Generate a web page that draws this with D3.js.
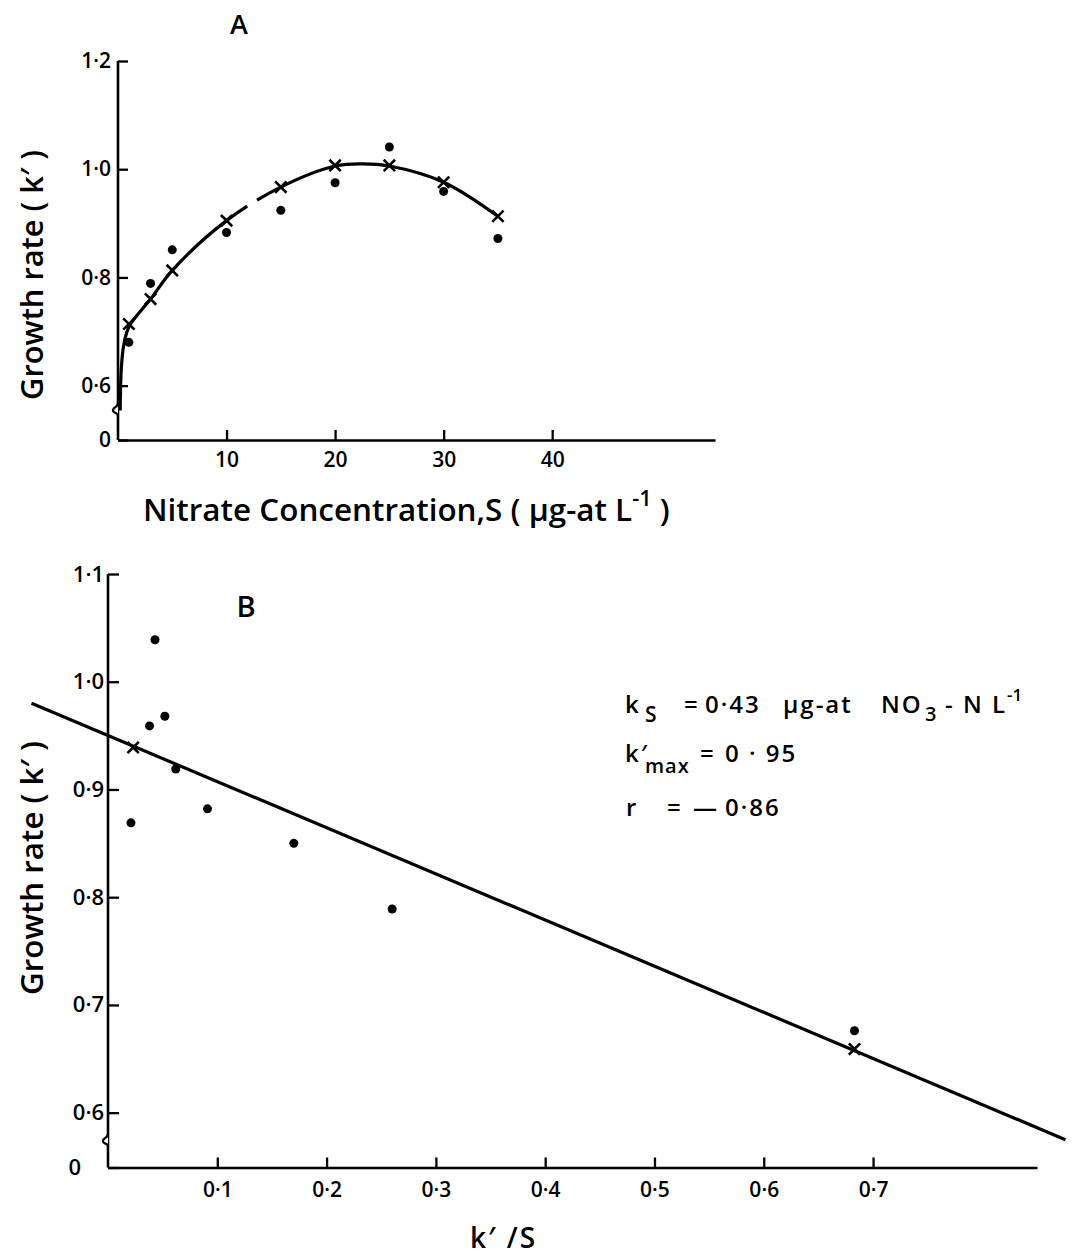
<!DOCTYPE html>
<html>
<head>
<meta charset="utf-8">
<script src="https://cdn.jsdelivr.net/npm/d3@7"></script>
<style>
  html, body { margin: 0; padding: 0; background: #fff; }
  svg { display: block; }
  text { font-family: "Open Sans", "DejaVu Sans", sans-serif; font-weight: 600; fill: #000; }
</style>
</head>
<body>
<svg id="chart" width="1075" height="1258"></svg>
<script>
// ---- Panel A: growth rate k' against nitrate concentration S ----
const concS      = [1, 3, 5, 10, 15, 20, 25, 30, 35];
const observedK  = [0.680, 0.789, 0.851, 0.883, 0.924, 0.975, 1.041, 0.959, 0.872];
const fittedK    = [0.714, 0.760, 0.813, 0.905, 0.967, 1.007, 1.007, 0.976, 0.913];
// smooth trend drawn through the fitted values
const curveS     = [0.2, 0.3, 0.5, 0.8, 1.15, 3, 5, 10, 15, 20, 22.5, 25, 30, 35];
const curveK     = [0.554, 0.630, 0.672, 0.698, 0.714, 0.760, 0.813, 0.905, 0.967, 1.006, 1.010, 1.006, 0.976, 0.913];
const curveGap   = [11.9, 12.8];
const xTicksA      = [10, 20, 30, 40];
const xTickLabelsA = ["10", "20", "30", "40"];
const yTicksA      = [0, 0.6, 0.8, 1.0, 1.2];
const yTickLabelsA = ["0", "0·6", "0·8", "1·0", "1·2"];

// ---- Panel B: k' against k'/S ----
const ratioObs = [0.043, 0.038, 0.052, 0.062, 0.091, 0.021, 0.170, 0.260, 0.683];
const kObs     = [1.039, 0.959, 0.968, 0.919, 0.882, 0.869, 0.850, 0.789, 0.676];
const ratioFit = [0.023, 0.683];
const kFit     = [0.939, 0.659];
const kMaxFit  = 0.95;   // intercept
const ksFit    = 0.43;   // slope magnitude
const rFit     = -0.86;  // correlation
const lineSpan = [-0.07, 0.876];
const xTicksB      = [0.1, 0.2, 0.3, 0.4, 0.5, 0.6, 0.7];
const xTickLabelsB = ["0·1", "0·2", "0·3", "0·4", "0·5", "0·6", "0·7"];
const yTicksB      = [0, 0.6, 0.7, 0.8, 0.9, 1.0, 1.1];
const yTickLabelsB = ["0", "0·6", "0·7", "0·8", "0·9", "1·0", "1·1"];

const svg = d3.select("#chart");
const INK = "#000";
const FONT = "Open Sans, DejaVu Sans, sans-serif";
const fmt2 = v => d3.format(".2f")(v).replace(".", "·");

function styleAxis(g, fontSize) {
  g.attr("font-family", FONT).attr("font-size", fontSize);
  g.selectAll("line").attr("stroke", INK).attr("stroke-width", 2.3);
  g.selectAll("path.domain").attr("stroke", INK).attr("stroke-width", 2.6);
  g.selectAll("text").attr("fill", INK).attr("font-weight", 600);
}

function fitWidth(sel, width) {
  const w = sel.node().getComputedTextLength();
  const fs = parseFloat(sel.attr("font-size"));
  sel.attr("font-size", fs * width / w);
}

function breakMark(x, y) {
  return `M${x},${y - 6} C${x},${y - 1} ${x - 6},${y - 2} ${x - 5},${y + 2} C${x - 4},${y + 5} ${x},${y + 3} ${x},${y + 7}`;
}

// ================= Panel A =================
const xA = d3.scaleLinear().domain([0, 55]).range([118, 715]);
const yA = d3.scaleLinear().domain([0, 0.55, 1.2]).range([440, 412.7, 61]);

const gxA = svg.append("g").attr("transform", `translate(0,${yA(0)})`)
  .call(d3.axisBottom(xA).tickValues(xTicksA)
    .tickFormat((d, i) => xTickLabelsA[i])
    .tickSizeInner(-10).tickSizeOuter(0).tickPadding(12));
styleAxis(gxA, 21);

const gyA = svg.append("g").attr("transform", `translate(${xA(0)},0)`)
  .call(d3.axisLeft(yA).tickValues(yTicksA)
    .tickFormat((d, i) => yTickLabelsA[i])
    .tickSizeInner(-10).tickSizeOuter(0).tickPadding(7));
styleAxis(gyA, 21);
gyA.select("path.domain").remove();
svg.append("path")
  .attr("d", `M${xA(0)},${yA(1.2)} V${yA(0)}`)
  .attr("stroke", INK).attr("stroke-width", 2.6).attr("fill", "none");
svg.append("path").attr("d", breakMark(xA(0), yA(0.557)))
  .attr("stroke", INK).attr("stroke-width", 2.2).attr("fill", "#fff");

// trend curve with a small break in the stroke
const curvePts = curveS.map((s, i) => [s, curveK[i]]);
const curvePath = svg.append("path")
  .attr("d", d3.line().x(d => xA(d[0])).y(d => yA(d[1])).curve(d3.curveCatmullRom.alpha(0.5))(curvePts))
  .attr("fill", "none").attr("stroke", INK).attr("stroke-width", 3.2);
(function () {
  const node = curvePath.node();
  const total = node.getTotalLength();
  const lenAtX = px => {
    let lo = 0, hi = total;
    for (let k = 0; k < 40; k++) {
      const mid = (lo + hi) / 2;
      if (node.getPointAtLength(mid).x < px) lo = mid; else hi = mid;
    }
    return lo;
  };
  const l1 = lenAtX(xA(curveGap[0])), l2 = lenAtX(xA(curveGap[1]));
  curvePath.attr("stroke-dasharray", `${l1} ${l2 - l1} ${total}`);
})();

// observed points
svg.append("g").selectAll("circle").data(concS).join("circle")
  .attr("cx", d => xA(d)).attr("cy", (d, i) => yA(observedK[i]))
  .attr("r", 4.5).attr("fill", INK);
// fitted points
const crossSym = d3.symbol(d3.symbolTimes, 85);
svg.append("g").selectAll("path").data(concS).join("path")
  .attr("d", crossSym)
  .attr("transform", (d, i) => `translate(${xA(d)},${yA(fittedK[i])})`)
  .attr("stroke", INK).attr("stroke-width", 2.6).attr("fill", "none");

// panel A titles
svg.append("text").attr("x", 239).attr("y", 34).attr("text-anchor", "middle")
  .attr("font-size", 27).attr("font-weight", 700).text("A");
const ylabA = svg.append("text")
  .attr("transform", "translate(43,275) rotate(-90)")
  .attr("text-anchor", "middle").attr("font-size", 30).attr("font-weight", 700)
  .text("Growth rate ( k′ )");
fitWidth(ylabA, 250);
const xlabA = svg.append("text").attr("x", 143).attr("y", 521).attr("font-size", 26);
xlabA.append("tspan").text("Nitrate Concentration,S ( μg-at L");
xlabA.append("tspan").attr("dy", -12).attr("font-size", 18).text("-1");
xlabA.append("tspan").attr("dy", 12).text(" )");
(function () {
  const w = xlabA.node().getBBox().width;
  const s = 527 / w;
  xlabA.attr("font-size", 26 * s);
  xlabA.selectAll("tspan").filter((d, i) => i === 1).attr("font-size", 18 * s).attr("dy", -12 * s);
  xlabA.selectAll("tspan").filter((d, i) => i === 2).attr("dy", 12 * s);
})();

// ================= Panel B =================
const xB = d3.scaleLinear().domain([0, 0.85]).range([108, 1037]);
const yB = d3.scaleLinear().domain([0, 0.575, 1.1]).range([1167.5, 1139.6, 574]);

const gxB = svg.append("g").attr("transform", `translate(0,${yB(0)})`)
  .call(d3.axisBottom(xB).tickValues(xTicksB)
    .tickFormat((d, i) => xTickLabelsB[i])
    .tickSizeInner(-10).tickSizeOuter(0).tickPadding(15));
styleAxis(gxB, 21);

const gyB = svg.append("g").attr("transform", `translate(${xB(0)},0)`)
  .call(d3.axisLeft(yB).tickValues(yTicksB)
    .tickFormat((d, i) => yTickLabelsB[i])
    .tickSizeInner(-11).tickSizeOuter(0).tickPadding(4));
styleAxis(gyB, 22);
gyB.select("path.domain").remove();
gyB.selectAll(".tick").filter(d => d === 0).select("text").attr("x", -27);
svg.append("path")
  .attr("d", `M${xB(0)},${yB(1.1)} V${yB(0)}`)
  .attr("stroke", INK).attr("stroke-width", 2.6).attr("fill", "none");
svg.append("path").attr("d", breakMark(xB(0), yB(0.574)))
  .attr("stroke", INK).attr("stroke-width", 2.2).attr("fill", "#fff");

// fitted straight line k' = k'max - ks * (k'/S)
const linePts = lineSpan.map(r => [r, kMaxFit - ksFit * r]);
svg.append("path")
  .attr("d", d3.line().x(d => xB(d[0])).y(d => yB(d[1]))(linePts))
  .attr("fill", "none").attr("stroke", INK).attr("stroke-width", 3.2);

svg.append("g").selectAll("circle").data(ratioObs).join("circle")
  .attr("cx", d => xB(d)).attr("cy", (d, i) => yB(kObs[i]))
  .attr("r", 4.5).attr("fill", INK);
svg.append("g").selectAll("path").data(ratioFit).join("path")
  .attr("d", crossSym)
  .attr("transform", (d, i) => `translate(${xB(d)},${yB(kFit[i])})`)
  .attr("stroke", INK).attr("stroke-width", 2.6).attr("fill", "none");

svg.append("text").attr("x", 246).attr("y", 617).attr("text-anchor", "middle")
  .attr("font-size", 29).attr("font-weight", 700).text("B");
const ylabB = svg.append("text")
  .attr("transform", "translate(43,868) rotate(-90)")
  .attr("text-anchor", "middle").attr("font-size", 30).attr("font-weight", 700)
  .text("Growth rate ( k′ )");
fitWidth(ylabB, 254);
svg.append("text").attr("x", 470).attr("y", 1248).attr("font-size", 28)
  .attr("letter-spacing", 2).text("k′ /S");

// fit statistics
const ann = svg.append("g").attr("font-size", 24).attr("letter-spacing", 2);
const l1 = ann.append("text").attr("y", 713);
l1.append("tspan").attr("x", 625).text("k");
l1.append("tspan").attr("x", 645).attr("dy", 9).attr("font-size", 21).text("S");
l1.append("tspan").attr("x", 684).attr("dy", -9).text("=");
l1.append("tspan").attr("x", 705).text(fmt2(ksFit));
l1.append("tspan").attr("x", 783).text("μg-at");
l1.append("tspan").attr("x", 881).text("NO");
l1.append("tspan").attr("x", 925).attr("dy", 8).attr("font-size", 20).text("3");
l1.append("tspan").attr("x", 945).attr("dy", -8).text("- N L");
l1.append("tspan").attr("dy", -12).attr("font-size", 17).attr("letter-spacing", 0).text("-1");

const l2 = ann.append("text").attr("y", 762);
l2.append("tspan").attr("x", 625).text("k′");
l2.append("tspan").attr("x", 645).attr("dy", 11).attr("font-size", 20).attr("letter-spacing", 1).text("max");
l2.append("tspan").attr("x", 700).attr("dy", -11).text("=");
l2.append("tspan").attr("x", 725).text(fmt2(kMaxFit).replace("·", " · "));

const l3 = ann.append("text").attr("y", 816);
l3.append("tspan").attr("x", 626).text("r");
l3.append("tspan").attr("x", 667).text("=");
l3.append("tspan").attr("x", 693).attr("letter-spacing", 0).text("—");
l3.append("tspan").attr("x", 725).text(fmt2(Math.abs(rFit)));
</script>
</body>
</html>
